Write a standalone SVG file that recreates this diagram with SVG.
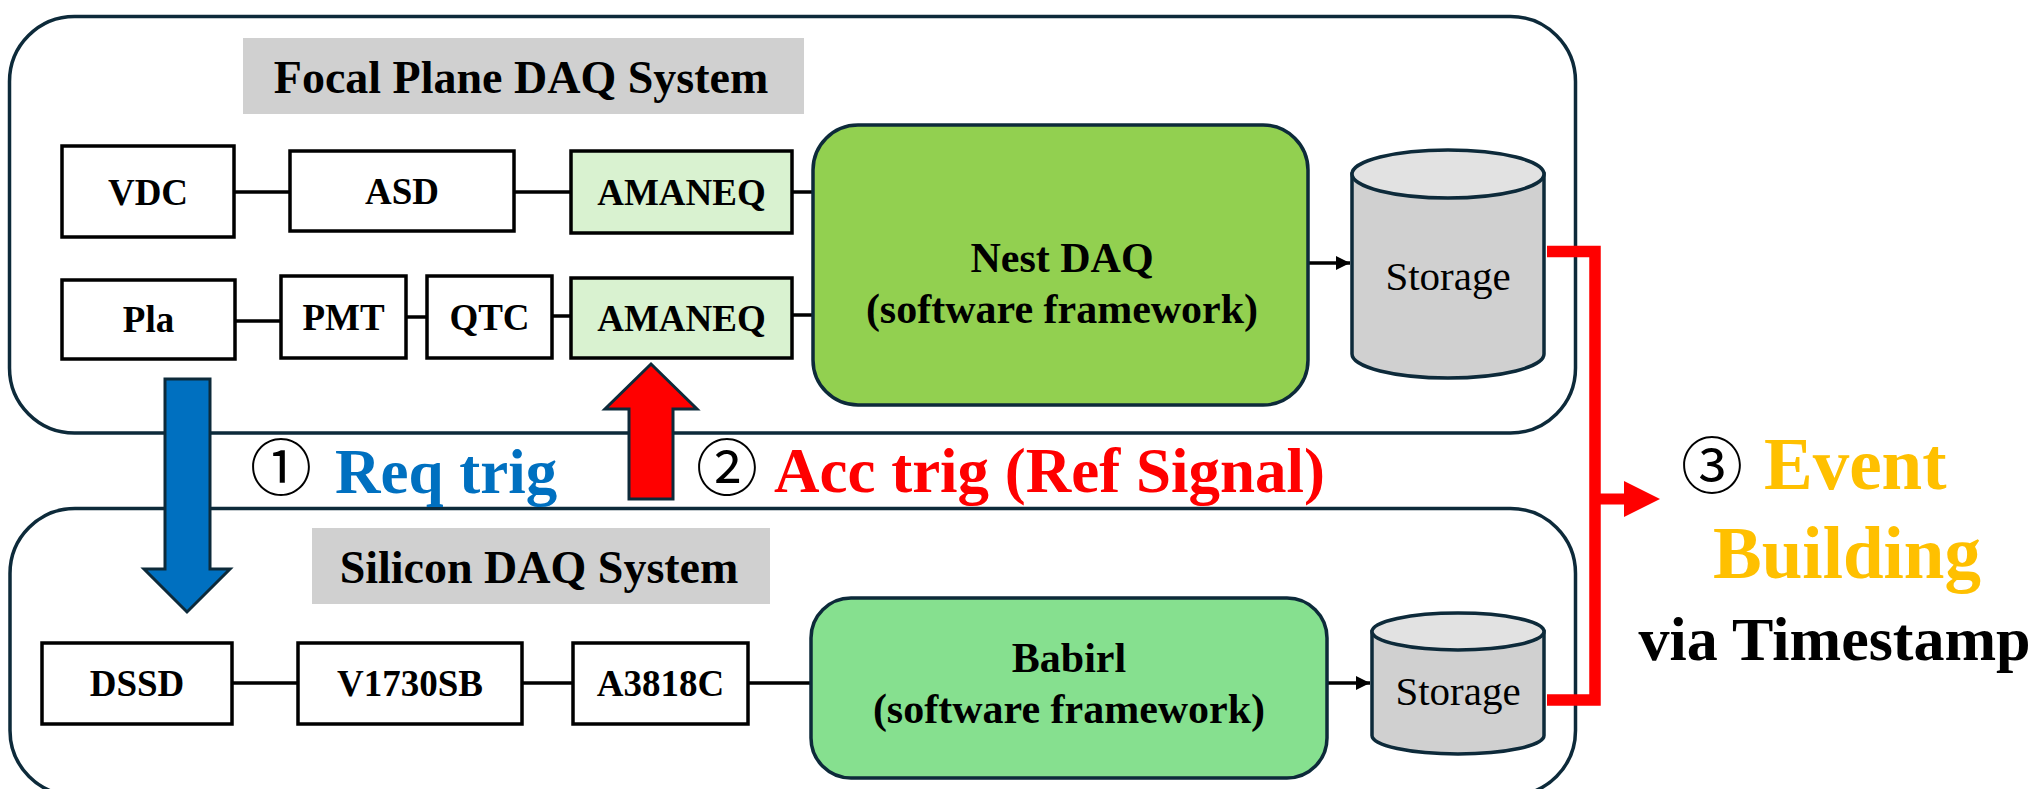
<svg xmlns="http://www.w3.org/2000/svg" width="2044" height="789" viewBox="0 0 2044 789">
<defs>
<style>
.frame{fill:#ffffff;stroke:#0d2a3a;stroke-width:3.5}
.lbl{fill:#d0d0d0}
.box{fill:#ffffff;stroke:#000000;stroke-width:3.5}
.amq{fill:#d9f2d0;stroke:#000000;stroke-width:3.5}
.t{font-family:'Liberation Serif','Times New Roman',serif;font-weight:bold;text-anchor:middle;fill:#000}
.tn{font-family:'Liberation Serif','Times New Roman',serif;text-anchor:middle;fill:#000}
.wire{stroke:#000;stroke-width:3.5;fill:none}
.cyl{fill:#d0d0d0;stroke:#0d2a3a;stroke-width:3.5}
.cyltop{fill:#e2e2e2;stroke:#0d2a3a;stroke-width:3.5}
.circ{font-family:'Noto Sans CJK JP','DejaVu Sans',sans-serif;text-anchor:middle;fill:#000}
</style>
<marker id="ah" viewBox="0 0 10 10" refX="10" refY="5" markerWidth="4" markerHeight="4.5" orient="auto" markerUnits="strokeWidth">
<path d="M0,0 L10,5 L0,10 z" fill="#000"/>
</marker>
</defs>

<g id="focal-system">
<rect class="frame" x="9.5" y="16.5" width="1566" height="416.5" rx="65" ry="65"/>
<rect class="lbl" x="243" y="38" width="561" height="76"/>
<text class="t" x="521" y="93" font-size="46">Focal Plane DAQ System</text>
</g>

<g id="silicon-system">
<rect class="frame" x="10" y="508.5" width="1565.5" height="287" rx="65" ry="65"/>
<rect class="lbl" x="312" y="528" width="458" height="76"/>
<text class="t" x="539" y="583" font-size="46">Silicon DAQ System</text>
</g>

<g id="connectors">
<line class="wire" x1="234" y1="192" x2="290" y2="192"/>
<line class="wire" x1="514" y1="192" x2="571" y2="192"/>
<line class="wire" x1="792" y1="192" x2="813" y2="192"/>
<line class="wire" x1="235" y1="321" x2="281" y2="321"/>
<line class="wire" x1="406" y1="317" x2="427" y2="317"/>
<line class="wire" x1="552" y1="316" x2="571" y2="316"/>
<line class="wire" x1="792" y1="315" x2="813" y2="315"/>
<line class="wire" x1="232" y1="683" x2="298" y2="683"/>
<line class="wire" x1="522" y1="683" x2="573" y2="683"/>
<line class="wire" x1="748" y1="683" x2="811" y2="683"/>
<line class="wire" x1="1308" y1="263" x2="1350" y2="263" marker-end="url(#ah)"/>
<line class="wire" x1="1327" y1="683" x2="1370" y2="683" marker-end="url(#ah)"/>
<polyline points="1547,251.5 1595,251.5 1595,700 1547,700" fill="none" stroke="#ff0000" stroke-width="11.5"/>
<polygon points="1595,493.5 1624,493.5 1624,481 1660,499 1624,517 1624,504.5 1595,504.5" fill="#ff0000"/>
<polygon id="req-arrow" points="165,379 210,379 210,569 230,569 187,612 144,569 165,569" fill="#0070c0" stroke="#0d2a3a" stroke-width="3"/>
<polygon id="acc-arrow" points="651,364 697,409 673,409 673,499 629,499 629,409 605,409" fill="#ff0000" stroke="#0d2a3a" stroke-width="3"/>
</g>

<g id="vdc"><rect class="box" x="62" y="146" width="172" height="91"/><text class="t" x="148" y="205" font-size="37">VDC</text></g>
<g id="asd"><rect class="box" x="290" y="151" width="224" height="80"/><text class="t" x="402" y="204" font-size="37">ASD</text></g>
<g id="amaneq1"><rect class="amq" x="571" y="151" width="221" height="82"/><text class="t" x="681.5" y="205" font-size="37">AMANEQ</text></g>
<g id="pla"><rect class="box" x="62" y="280" width="173" height="79"/><text class="t" x="148.5" y="332" font-size="37">Pla</text></g>
<g id="pmt"><rect class="box" x="281" y="276" width="125" height="82"/><text class="t" x="343.5" y="330" font-size="37">PMT</text></g>
<g id="qtc"><rect class="box" x="427" y="276" width="125" height="82"/><text class="t" x="489.5" y="330" font-size="37">QTC</text></g>
<g id="amaneq2"><rect class="amq" x="571" y="278" width="221" height="80"/><text class="t" x="681.5" y="331" font-size="37">AMANEQ</text></g>

<g id="nestdaq">
<rect x="813" y="125" width="495" height="280" rx="45" ry="45" fill="#92d050" stroke="#0d2a3a" stroke-width="3.5"/>
<text class="t" x="1062" y="272" font-size="42">Nest DAQ</text>
<text class="t" x="1062" y="323" font-size="42">(software framework)</text>
</g>

<g id="storage1">
<path class="cyl" d="M1352,174 L1352,354 A96,24 0 0 0 1544,354 L1544,174 Z"/>
<ellipse class="cyltop" cx="1448" cy="174" rx="96" ry="24"/>
<text class="tn" x="1448" y="290" font-size="41">Storage</text>
</g>

<g id="dssd"><rect class="box" x="42" y="643" width="190" height="81"/><text class="t" x="137" y="696" font-size="37">DSSD</text></g>
<g id="v1730sb"><rect class="box" x="298" y="643" width="224" height="81"/><text class="t" x="410" y="696" font-size="37">V1730SB</text></g>
<g id="a3818c"><rect class="box" x="573" y="643" width="175" height="81"/><text class="t" x="660.5" y="696" font-size="37">A3818C</text></g>

<g id="babirl">
<rect x="811" y="598" width="516" height="180" rx="40" ry="40" fill="#86e08f" stroke="#0d2a3a" stroke-width="3.5"/>
<text class="t" x="1069" y="672" font-size="42">Babirl</text>
<text class="t" x="1069" y="723" font-size="42">(software framework)</text>
</g>

<g id="storage2">
<path class="cyl" d="M1372,631.5 L1372,735.5 A86,18.5 0 0 0 1544,735.5 L1544,631.5 Z"/>
<ellipse class="cyltop" cx="1458" cy="631.5" rx="86" ry="18.5"/>
<text class="tn" x="1458" y="705" font-size="41">Storage</text>
</g>

<g id="labels">
<text class="circ" x="281" y="491" font-size="62">①</text>
<text class="t" x="335" y="493" font-size="63" style="text-anchor:start;fill:#0070c0">Req trig</text>
<text class="circ" x="727" y="491" font-size="62">②</text>
<text class="t" x="774" y="492" font-size="63" style="text-anchor:start;fill:#ff0000">Acc trig (Ref Signal)</text>
<text class="circ" x="1712" y="489" font-size="62">③</text>
<text class="t" x="1764" y="489" font-size="73" style="text-anchor:start;fill:#ffc000">Event</text>
<text class="t" x="1847" y="578" font-size="73" style="fill:#ffc000">Building</text>
<text class="t" x="1834.5" y="660" font-size="62">via Timestamp</text>
</g>
</svg>
